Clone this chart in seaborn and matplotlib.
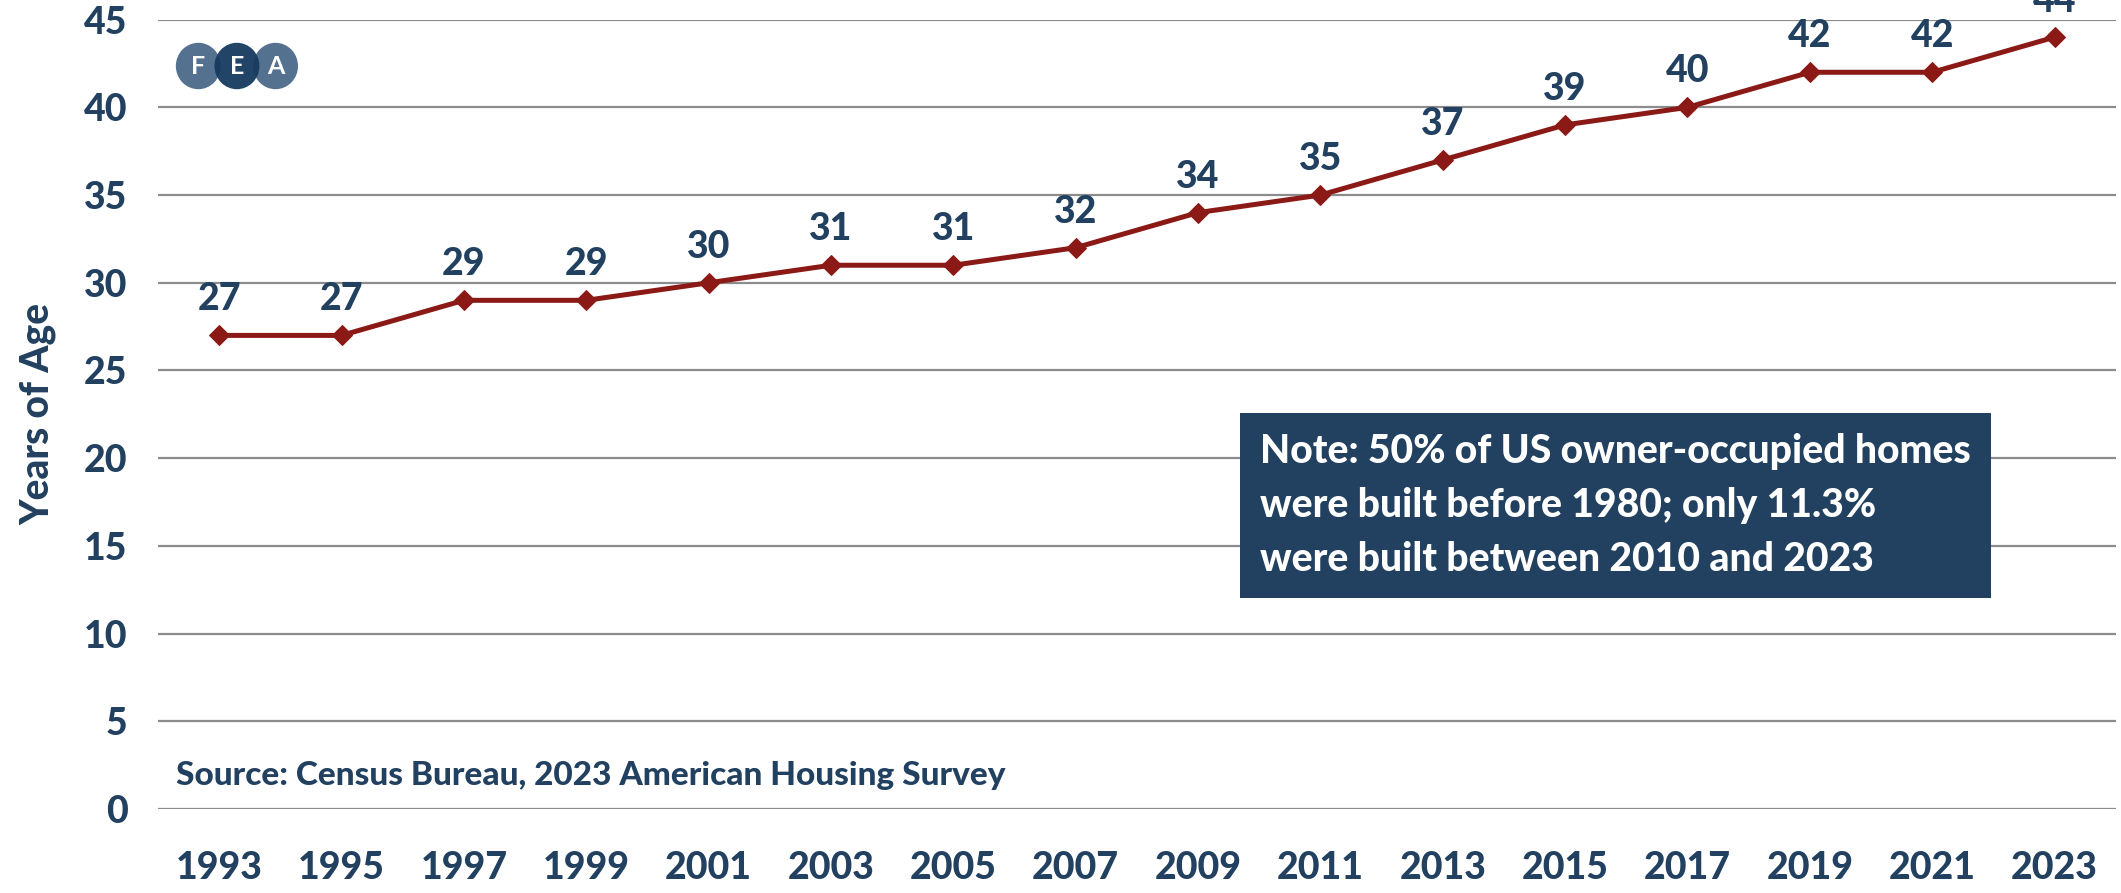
import matplotlib
matplotlib.use("Agg")
import matplotlib.pyplot as plt
from matplotlib.patches import Ellipse
import numpy as np
import pandas as pd
import seaborn as sns

years = ["1993", "1995", "1997", "1999", "2001", "2003", "2005", "2007",
         "2009", "2011", "2013", "2015", "2017", "2019", "2021", "2023"]
median_age = [27, 27, 29, 29, 30, 31, 31, 32, 34, 35, 37, 39, 40, 42, 42, 44]
y_ticks = [0, 5, 10, 15, 20, 25, 30, 35, 40, 45]

note_text = ("Note: 50% of US owner-occupied homes\n"
             "were built before 1980; only 11.3%\n"
             "were built between 2010 and 2023")
source_text = "Source: Census Bureau, 2023 American Housing Survey"

NAVY = "#22405f"
RED = "#8b1a17"
GRID = "#8c8c8c"
W = "black"

sns.set_theme(style="white")
plt.rcParams["font.family"] = ["Lato", "DejaVu Sans"]

fig = plt.figure(figsize=(21.21, 8.93), dpi=100)
ax = fig.add_axes([0.0745, 0.094, 0.923, 0.884])

df = pd.DataFrame({"pos": np.arange(len(years)), "age": median_age})
sns.lineplot(data=df, x="pos", y="age", ax=ax, color=RED, linewidth=3.6,
             marker="D", markersize=10, markeredgecolor=RED, zorder=3)

for x, v in zip(df["pos"], df["age"]):
    ax.annotate(str(v), (x, v), xytext=(0, 26), textcoords="offset points",
                ha="center", va="center", fontsize=27, fontweight=W,
                color=NAVY, annotation_clip=False)

ax.set_xlim(-0.5, len(years) - 0.5)
ax.set_ylim(0, 45)
ax.set_xticks(df["pos"])
ax.set_xticklabels(years)
ax.set_yticks(y_ticks)
ax.tick_params(axis="both", length=0, labelsize=27, labelcolor=NAVY)
ax.tick_params(axis="x", pad=30)
ax.tick_params(axis="y", pad=22)
for lab in ax.get_xticklabels() + ax.get_yticklabels():
    lab.set_fontweight(W)

ax.set_xlabel("")
ax.set_ylabel("Years of Age", fontsize=28, fontweight=W, color=NAVY,
              labelpad=20)
ax.yaxis.grid(True, color=GRID, linewidth=1.6)
ax.xaxis.grid(False)
for s in ax.spines.values():
    s.set_visible(False)
ax.set_axisbelow(True)

# note box
ax.text(0.563, 0.293, note_text, transform=ax.transAxes, ha="left",
        va="bottom", fontsize=28.2, fontweight=W, color="white",
        linespacing=1.56,
        bbox=dict(boxstyle="square,pad=0.52", facecolor=NAVY, edgecolor="none"))

# source line
ax.text(0.0094, 0.043, source_text, transform=ax.transAxes, ha="left",
        va="center", fontsize=24, fontweight=W, color=NAVY)

# FEA badge
badge_cx = [0.0935, 0.1117, 0.1299]
badge_cy = 1 - 66 / 893
badge_col = ["#4b6a89", "#163a5f", "#4b6a89"]
for i in [0, 2, 1]:
    fig.patches.append(Ellipse((badge_cx[i], badge_cy), width=0.0212,
                               height=0.052, transform=fig.transFigure,
                               facecolor=badge_col[i], edgecolor="none",
                               alpha=0.95, zorder=5))
for cx, letter in zip(badge_cx, "FEA"):
    fig.text(cx, badge_cy, letter, ha="center", va="center", fontsize=18,
             fontweight="bold", color="white", zorder=6)

fig.savefig("out.png", dpi=100)
